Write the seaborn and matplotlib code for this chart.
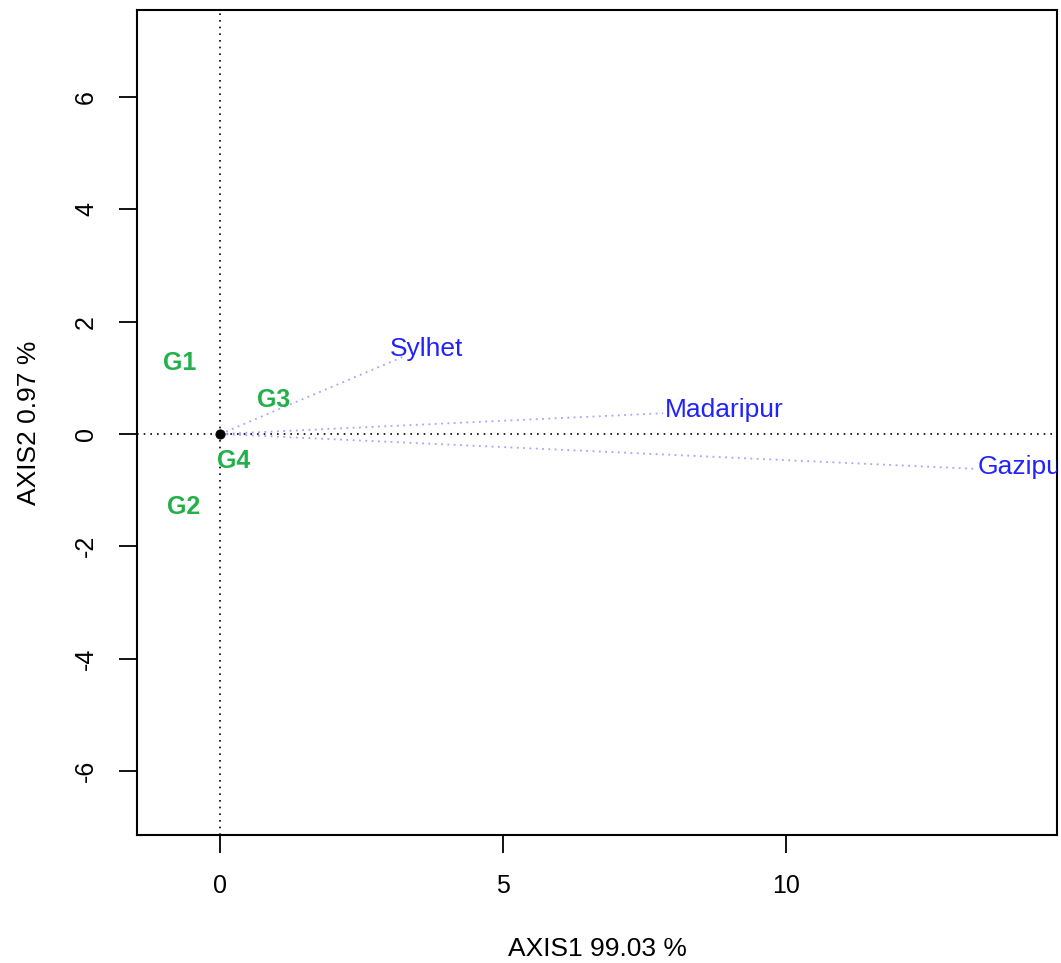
import matplotlib
matplotlib.use("Agg")
import matplotlib.pyplot as plt
import matplotlib.transforms as mtransforms
import seaborn as sns
import pandas as pd

# ---- data ----
env_names = ["Sylhet", "Madaripur", "Gazipur"]
env_x = [3.22, 7.83, 13.34]
env_y = [1.37, 0.37, -0.62]

gen_names = ["G1", "G2", "G3", "G4"]
gen_x = [-0.72, -0.64, 0.94, 0.23]
gen_y = [1.26, -1.30, 0.61, -0.48]

x_ticks = [0, 5, 10]
y_ticks = [-6, -4, -2, 0, 2, 4, 6]
x_label = "AXIS1 99.03 %"
y_label = "AXIS2 0.97 %"

# ---- style ----
sns.set_style("white")
plt.rcParams["font.family"] = ["Liberation Sans", "DejaVu Sans"]
plt.rcParams["text.color"] = "black"
plt.rcParams["axes.labelcolor"] = "black"
plt.rcParams["xtick.color"] = "black"
plt.rcParams["ytick.color"] = "black"

fig = plt.figure(figsize=(10.61, 9.63), dpi=100)
ax = fig.add_axes([0.1291, 0.1329, 0.9962 - 0.1291, 0.9896 - 0.1329])

xlim = (-1.47, 14.79)
ylim = (-7.14, 7.55)
ax.set_xlim(*xlim)
ax.set_ylim(*ylim)

# origin reference lines
ax.axhline(0, color="black", lw=1.2, ls=(0, (1, 3)), zorder=1)
ax.axvline(0, color="black", lw=1.2, ls=(0, (1, 3)), zorder=1)

# environment vectors
env_df = pd.DataFrame({"name": env_names, "x": env_x, "y": env_y})
for _, r in env_df.iterrows():
    seg = pd.DataFrame({"x": [0, r.x], "y": [0, r.y]})
    sns.lineplot(data=seg, x="x", y="y", ax=ax, color="#4a4aff", alpha=0.5,
                 lw=1.3, ls=(0, (1, 2.5)), sort=False, estimator=None, zorder=2)

label_offsets = {"Sylhet": (-9, 6), "Madaripur": (1, 2), "Gazipur": (2, 1)}
for n, x, y in zip(env_names, env_x, env_y):
    dx, dy = label_offsets[n]
    tr = mtransforms.offset_copy(ax.transData, fig=fig, x=dx, y=dy, units="points")
    ax.text(x, y, n, transform=tr, ha="left", va="center", color="#2222ff",
            fontsize=19, clip_on=True, zorder=4)

# genotype labels
for n, x, y in zip(gen_names, gen_x, gen_y):
    ax.text(x, y, n, ha="center", va="center", color="#22b04a",
            fontsize=18, fontweight="bold", zorder=4)

# origin point
sns.scatterplot(x=[0], y=[0], ax=ax, color="black", s=45, marker="o",
                edgecolor="black", zorder=5, legend=False)

ax.set_xticks(x_ticks)
ax.set_yticks(y_ticks)
ax.set_xticklabels([str(t) for t in x_ticks])
ax.set_yticklabels([str(t) for t in y_ticks], rotation=90, va="center")
ax.tick_params(axis="both", direction="out", length=13, width=1.3,
               color="black", labelcolor="black", labelsize=18, pad=15,
               left=True, bottom=True)

ax.set_xlabel(x_label, fontsize=19, labelpad=28, color="black")
ax.set_ylabel(y_label, fontsize=19, labelpad=24, color="black")

for s in ax.spines.values():
    s.set_visible(True)
    s.set_color("black")
    s.set_linewidth(1.5)

fig.savefig("out.png", dpi=100)
